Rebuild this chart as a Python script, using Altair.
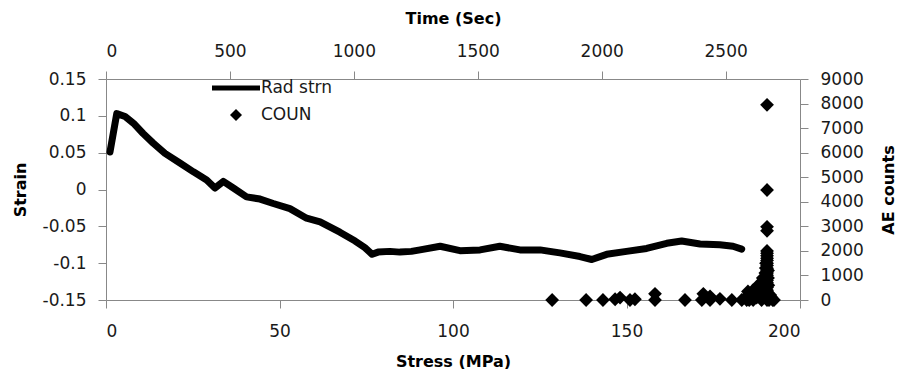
import altair as alt
import pandas as pd

# Radial strain vs stress (primary axes)
stress = [1.15, 3.1, 5.5, 7.9, 10.7, 13.6, 17.0, 21.3, 25.2, 29.0,
          31.4, 33.8, 36.7, 40.5, 44.4, 48.2, 53.0, 57.8, 61.7, 67.4,
          71.8, 74.6, 76.7, 78.4, 81.8, 84.7, 88.0, 90.5, 96.3, 102.0,
          107.8, 113.5, 119.3, 125.1, 130.8, 136.6, 140.0, 144.3, 150.0, 155.8,
          161.6, 165.9, 171.2, 176.9, 180.7, 183.2]
strain = [0.051, 0.103, 0.099, 0.090, 0.076, 0.063, 0.049, 0.036, 0.024, 0.013,
          0.002, 0.011, 0.002, -0.010, -0.013, -0.019, -0.026, -0.039, -0.044, -0.058,
          -0.070, -0.079, -0.088, -0.085, -0.084, -0.085, -0.084, -0.082, -0.077, -0.083,
          -0.082, -0.077, -0.082, -0.082, -0.086, -0.091, -0.095, -0.088, -0.084, -0.080,
          -0.073, -0.070, -0.074, -0.075, -0.077, -0.081]

# AE counts vs time (secondary axes)
ae_time = [1800, 1937, 2005, 2054, 2074, 2114, 2134, 2215, 2215, 2336,
           2404, 2410, 2437, 2437, 2477, 2525, 2565, 2585, 2585, 2590,
           2611, 2611, 2611, 2625, 2631, 2631, 2645, 2645, 2645, 2650,
           2655, 2660, 2675, 2680, 2690,
           2595, 2600, 2605, 2618, 2620, 2635, 2640, 2650, 2655, 2658,
           2662, 2670, 2672, 2678, 2685, 2695, 2663, 2671, 2663, 2671,
           2667, 2667, 2667, 2667, 2667, 2667, 2667, 2667, 2667, 2667,
           2667, 2667, 2667, 2667, 2667, 2667, 2667, 2667, 2667, 2667,
           2667, 2667, 2667, 2667, 2667]
ae_count = [0, 0, 0, 30, 100, 0, 30, 0, 250, 0,
            0, 250, 0, 150, 50, 0, 0, 0, 150, 350,
            0, 200, 400, 100, 300, 600, 0, 300, 700, 900,
            500, 1100, 0, 200, 0,
            0, 100, 250, 150, 350, 450, 150, 600, 800, 300,
            1300, 300, 600, 100, 100, 0, 1500, 1200, 700, 900,
            0, 110, 190, 320, 400, 510, 590, 700, 790, 900,
            1010, 1100, 1210, 1290, 1400, 1500, 1610, 1700, 1800, 1900,
            2000, 2820, 2980, 4480, 7950]

series_names = ["Rad strn", "COUN"]

LINE_SYMBOL = "M-4,-0.42H4V0.42H-4Z"

df_line = pd.DataFrame({"stress": stress, "strain": strain})
df_ae = pd.DataFrame({"time": ae_time, "count": ae_count, "series": ["COUN"] * len(ae_time)})

LBL_FONT = "DejaVu Sans"
LBL_SIZE = 17
TTL_SIZE = 16
GREY = "#888888"

common_axis = dict(
    grid=False, domainColor=GREY, tickColor=GREY, tickSize=8,
    labelFont=LBL_FONT, labelFontSize=LBL_SIZE, labelColor="#1a1a1a",
    titleFont=LBL_FONT, titleFontSize=TTL_SIZE, titleFontWeight="bold",
    titleColor="#000000", titleAlign="center", titleBaseline="middle",
)

W, H = 694, 221

line = alt.Chart(df_line).mark_line(
    color="black", strokeWidth=7, strokeCap="round", strokeJoin="round"
).encode(
    x=alt.X("stress:Q", scale=alt.Scale(domain=[0, 200], nice=False, zero=False),
            axis=alt.Axis(orient="bottom", values=[0, 50, 100, 150, 200],
                          title="Stress (MPa)", labelBaseline="middle", labelPadding=23,
                          titleX=W / 2, titleY=61, **common_axis)),
    y=alt.Y("strain:Q", scale=alt.Scale(domain=[-0.15, 0.15], nice=False, zero=False),
            axis=alt.Axis(orient="left", values=[-0.15, -0.1, -0.05, 0, 0.05, 0.1, 0.15],
                          labelExpr="'' + datum.value", labelPadding=12,
                          title="Strain", titleAngle=270, titleX=-86, titleY=H / 2,
                          **common_axis)),
    order="stress:Q",
)

points = alt.Chart(df_ae).mark_point(
    filled=True, color="black", opacity=1, size=190
).encode(
    x=alt.X("time:Q", scale=alt.Scale(domain=[0, 2800], nice=False, zero=False),
            axis=alt.Axis(orient="top", values=[0, 500, 1000, 1500, 2000, 2500],
                          format="d", title="Time (Sec)", labelBaseline="middle", labelPadding=20,
                          titleX=W / 2, titleY=-61, **common_axis)),
    y=alt.Y("count:Q", scale=alt.Scale(domain=[0, 9000], nice=False, zero=False),
            axis=alt.Axis(orient="right", values=[0, 1000, 2000, 3000, 4000, 5000, 6000, 7000, 8000, 9000],
                          format="d", labelPadding=12,
                          title="AE counts", titleAngle=270, titleX=88, titleY=H / 2,
                          **common_axis)),
    shape=alt.Shape("series:N",
                    scale=alt.Scale(domain=series_names, range=[LINE_SYMBOL, "diamond"]),
                    legend=alt.Legend(title=None, orient="none", legendX=121.5, legendY=0.5,
                                      padding=0, symbolSize=144, symbolFillColor="black",
                                      symbolStrokeColor="black", symbolStrokeWidth=0,
                                      symbolOpacity=1,
                                      labelFont=LBL_FONT, labelFontSize=LBL_SIZE,
                                      labelColor="#1a1a1a", labelOffset=16.5,
                                      rowPadding=9)),
)

chart = alt.layer(line, points).resolve_scale(
    x="independent", y="independent", shape="independent"
).properties(
    width=W, height=H,
    autosize=alt.AutoSizeParams(type="none"),
    padding={"left": 106, "top": 79, "right": 104, "bottom": 69},
    background="white",
).configure_view(stroke=None)

chart.save("out.html", embed_options={"renderer": "svg", "actions": False})
